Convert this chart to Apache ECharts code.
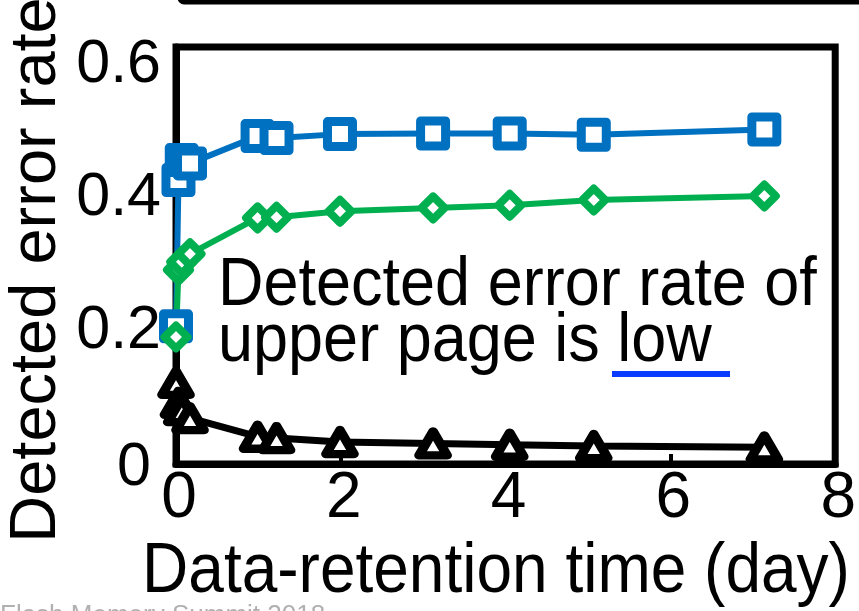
<!DOCTYPE html>
<html>
<head>
<meta charset="utf-8">
<script src="https://cdn.jsdelivr.net/npm/echarts@6/dist/echarts.min.js"></script>
<style>
  html, body { margin: 0; padding: 0; background: #fff; }
  #container { width: 859px; height: 611px; }
</style>
</head>
<body>
<div id="container"></div>
<script>
// data-retention time (day)
let days = [0, 0.03, 0.07, 0.17, 0.99, 1.22, 1.99, 3.12, 4.05, 5.07, 7.14]
// detected error rate, one list per curve
let blueRate = [0.207, 0.427, 0.457, 0.452, 0.493, 0.490, 0.496, 0.497, 0.497, 0.495, 0.503]
let greenRate = [0.191, 0.292, 0.304, 0.316, 0.370, 0.371, 0.380, 0.385, 0.389, 0.397, 0.403]
let blackRate = [0.122, 0.092, 0.081, 0.069, 0.041, 0.039, 0.033, 0.031, 0.029, 0.027, 0.025]

let xTicks = [0, 2, 4, 6, 8]
let yTicks = [0, 0.2, 0.4, 0.6]

const font = 'Liberation Sans, Arial, sans-serif'

function points(rates) {
  return days.map((d, i) => [d, rates[i]])
}

function curve(rates, color, symbol, size, lineWidth, borderWidth) {
  return {
    type: 'line',
    data: points(rates),
    clip: false,
    symbol: symbol,
    symbolSize: size,
    showAllSymbol: true,
    lineStyle: { color: color, width: lineWidth },
    itemStyle: { color: '#fff', borderColor: color, borderWidth: borderWidth, borderJoin: 'round' },
    emphasis: { disabled: true }
  }
}

// text drawn a bit taller than wide, like the slide
function label(text, x, y, size, align) {
  return {
    type: 'text',
    x: x, y: y,
    scaleY: 1.1,
    style: { text: text, font: size + 'px ' + font, fill: '#000', textAlign: align || 'left', textVerticalAlign: 'middle' }
  }
}

let options = {
  animation: false,
  grid: {
    left: 176,
    right: 20,
    top: 47,
    bottom: 147,
    show: true,
    borderColor: '#000',
    borderWidth: 7
  },
  xAxis: {
    type: 'value',
    min: 0,
    max: 8,
    axisLine: { show: true, lineStyle: { color: '#000', width: 7 } },
    axisTick: { show: true, inside: true, length: 10, lineStyle: { color: '#000', width: 4 }, customValues: xTicks },
    splitLine: { show: false },
    axisLabel: {
      customValues: xTicks,
      color: '#000',
      fontFamily: font,
      fontSize: 64,
      margin: 3,
      padding: [0, 0, 0, 6]
    }
  },
  yAxis: {
    type: 'value',
    min: 0,
    max: 0.627,
    axisLine: { show: true, lineStyle: { color: '#000', width: 7 } },
    axisTick: { show: false },
    splitLine: { show: false },
    axisLabel: {
      customValues: yTicks,
      color: '#000',
      fontFamily: font,
      fontSize: 61,
      margin: 15,
      formatter: v => v === 0 ? '{z|0}' : String(v),
      rich: { z: { fontFamily: font, fontSize: 61, color: '#000', padding: [8, 10, 0, 0] } }
    }
  },
  graphic: [
    {
      type: 'rect',
      shape: { x: 180, y: -60, width: 720, height: 62, r: 4 },
      style: { fill: 'none', stroke: '#000', lineWidth: 5 }
    },
    {
      type: 'text',
      x: 37, y: 270,
      rotation: Math.PI / 2,
      style: { text: 'Detected error rate', font: '65px ' + font, fill: '#000', textAlign: 'center', textVerticalAlign: 'middle' }
    },
    label('Data-retention time (day)', 496, 573, 64, 'center'),
    label('Detected error rate of', 218, 286, 63),
    label('upper page is low', 218, 342, 63),
    {
      type: 'rect',
      shape: { x: 612, y: 371, width: 118, height: 6 },
      style: { fill: '#0a3cff' }
    },
    {
      type: 'text',
      x: 0, y: 603,
      style: { text: 'Flash Memory Summit 2018', font: '26px ' + font, fill: '#b0b0b0', textAlign: 'left', textVerticalAlign: 'top' }
    }
  ],
  series: [
    curve(blackRate, '#000', 'triangle', [28, 24], 7, 9),
    curve(blueRate, '#0070c0', 'rect', 25, 6, 9),
    curve(greenRate, '#00b050', 'diamond', 23, 6, 8)
  ]
}

let mychart = echarts.init(document.getElementById('container'))
mychart.setOption(options)
window.addEventListener('resize', () => { mychart.resize() })
</script>
</body>
</html>
